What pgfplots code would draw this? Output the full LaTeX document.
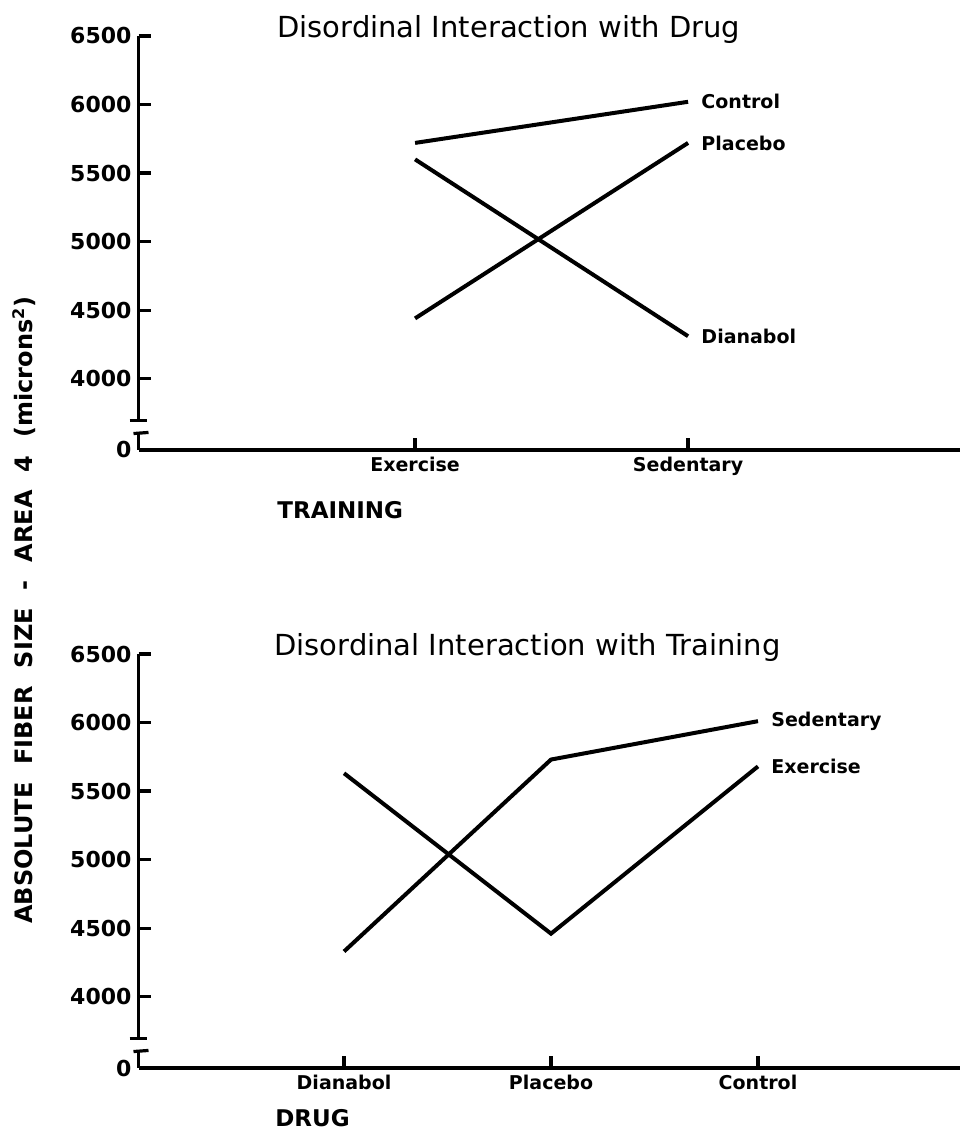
\documentclass[border=0pt]{standalone}
\usepackage{fontspec}
\setmainfont{DejaVu Sans}
\usepackage{pgfplots}
\pgfplotsset{compat=1.18}
\begin{document}
\begin{tikzpicture}
\useasboundingbox (0,0) rectangle (480pt,570pt);
\tikzset{lab/.style={anchor=west, inner sep=0pt, xshift=6.5pt, font=\bfseries\fontsize{9.5}{9.5}\selectfont},
         ln/.style={black, line width=2pt, mark=none}}
\pgfplotsset{
  myaxis/.style={
    scale only axis, width=410.75pt, height=207pt,
    ymin=3480, ymax=6500,
    ytick={3480,4000,4500,5000,5500,6000,6500},
    yticklabels={0,4000,4500,5000,5500,6000,6500},
    axis x line=bottom, axis y line=left,
    axis line style={-, line width=1.6pt},
    y axis line style={draw=none},
    tick align=inside, major tick length=6pt,
    tick style={line width=1.6pt, black},
    y tick label style={font=\bfseries\fontsize{11}{11}\selectfont},
    x tick label style={font=\bfseries\fontsize{9.5}{9.5}\selectfont},
    clip=false,
  },
}
% ---------- top panel ----------
\begin{axis}[myaxis, at={(69.25pt,345pt)}, anchor=south west,
  xmin=-1.013, xmax=1.996,
  xtick={0,1}, xticklabels={Exercise,Sedentary}]
\addplot[ln] coordinates {(0,5720) (1,6020)};
\addplot[ln] coordinates {(0,4440) (1,5720)};
\addplot[ln] coordinates {(0,5600) (1,4310)};
\node[lab] at (axis cs:1,6020) {Control};
\node[lab] at (axis cs:1,5720) {Placebo};
\node[lab] at (axis cs:1,4310) {Dianabol};
\draw[line width=1.6pt] (axis cs:-1.013,3698) -- (axis cs:-1.013,6500);
\draw[line width=1.6pt] ([xshift=-4.5pt]axis cs:-1.013,3698) -- ([xshift=4pt]axis cs:-1.013,3698);
\draw[line width=1.6pt] (axis cs:-1.013,3480) -- (axis cs:-1.013,3604);
\draw[line width=1.6pt] ([xshift=-2.5pt]axis cs:-1.013,3600) -- ([xshift=5pt]axis cs:-1.013,3608);
\end{axis}
% ---------- bottom panel ----------
\begin{axis}[myaxis, at={(69.25pt,36pt)}, anchor=south west,
  xmin=-0.993, xmax=2.976,
  xtick={0,1,2}, xticklabels={Dianabol,Placebo,Control}]
\addplot[ln] coordinates {(0,4330) (1,5730) (2,6010)};
\addplot[ln] coordinates {(0,5630) (1,4460) (2,5680)};
\node[lab] at (axis cs:2,6010) {Sedentary};
\node[lab] at (axis cs:2,5680) {Exercise};
\draw[line width=1.6pt] (axis cs:-0.993,3698) -- (axis cs:-0.993,6500);
\draw[line width=1.6pt] ([xshift=-4.5pt]axis cs:-0.993,3698) -- ([xshift=4pt]axis cs:-0.993,3698);
\draw[line width=1.6pt] (axis cs:-0.993,3480) -- (axis cs:-0.993,3604);
\draw[line width=1.6pt] ([xshift=-2.5pt]axis cs:-0.993,3600) -- ([xshift=5pt]axis cs:-0.993,3608);
\end{axis}
% ---------- titles and labels ----------
\node[anchor=base west, inner sep=0pt, font=\fontsize{14.5}{14.5}\selectfont] at (138.5pt,551pt) {Disordinal Interaction with Drug};
\node[anchor=base west, inner sep=0pt, font=\fontsize{14.5}{14.5}\selectfont] at (137pt,242pt) {Disordinal Interaction with Training};
\node[anchor=base west, inner sep=0pt, font=\bfseries\fontsize{11.5}{11.5}\selectfont] at (138.5pt,310.5pt) {TRAINING};
\node[anchor=base west, inner sep=0pt, font=\bfseries\fontsize{11.5}{11.5}\selectfont] at (137.5pt,6.5pt) {DRUG};
\node[rotate=90, inner sep=0pt, font=\bfseries\fontsize{12}{12}\selectfont] at (12pt,265pt) {ABSOLUTE\hspace{0.75em}FIBER\hspace{0.75em}SIZE\hspace{0.75em}-\hspace{0.75em}AREA\hspace{0.75em}4\hspace{0.75em}(microns\textsuperscript{2})};
\end{tikzpicture}
\end{document}
